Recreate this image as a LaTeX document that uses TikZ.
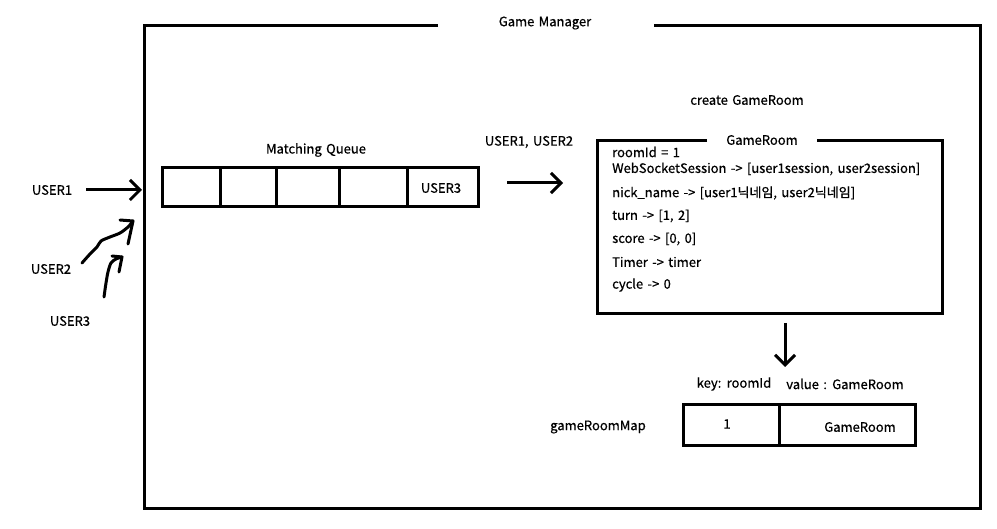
\documentclass[tikz,border=0pt]{standalone}
\usepackage{fontspec}
\setmainfont{Noto Sans CJK KR}
\newfontfamily\mf{Noto Sans CJK KR}[FakeBold=0.6,WordSpace=1.5]
\usetikzlibrary{arrows.meta}
\begin{document}
\begin{tikzpicture}[x=1pt,y=-1pt,
  every node/.style={font=\mf\fontsize{13}{15}\selectfont, inner sep=0pt},
  box/.style={line width=3pt},
  arr/.style={line width=3pt,-{Straight Barb[length=10pt,width=20pt]}},
  hand/.style={line width=3pt, line cap=round, line join=round},
  txt/.style={anchor=west}]
\useasboundingbox (0,0) rectangle (997,529);
\fill[white] (0,0) rectangle (997,529);
% outer Game Manager frame
\draw[box] (438,26) -- (144,26) -- (144,508) -- (980,508) -- (980,26) -- (654,26);
\node (gm) at (545,23) {Game Manager};
% users
\node (u1) at (52,190) {USER1};
\node (u2) at (51,269) {USER2};
\node (u3) at (70,321) {USER3};
\coordinate (u1s) at (86,190);
\coordinate (qin) at (142,190);
\draw[arr] (u1s) -- (qin);
% freehand arrow USER2
\coordinate (u2s) at (82,263);
\coordinate (u2t) at (133,221);
\draw[hand] plot[smooth] coordinates {(u2s) (90,254) (97,247) (101,241) (110,237) (120,233) (128,227) (u2t)};
\draw[hand] (120,220) -- (u2t) -- (128,244);
% freehand arrow USER3
\coordinate (u3s) at (104,297);
\coordinate (u3t) at (122,257);
\draw[hand] plot[smooth] coordinates {(u3s) (106,283) (108,272) (111,263) (116,259) (u3t)};
\draw[hand] (112,256) -- (u3t) -- (119,272);
% matching queue
\node (mq) at (316,150) {Matching Queue};
\draw[box] (162,168) rectangle (478,207);
\foreach \x in {220,276,339,407} \draw[box] (\x,168) -- (\x,207);
\node (q5) at (441,188) {USER3};
% transfer arrow
\node (u12) at (529,142) {USER1, USER2};
\coordinate (ts) at (507,183);
\coordinate (te) at (563,183);
\draw[arr] (ts) -- (te);
\node (cg) at (747,100) {create GameRoom};
% GameRoom box
\draw[box] (707,141) -- (597,141) -- (597,314) -- (942,314) -- (942,141) -- (817,141);
\node (gr) at (762,140) {GameRoom};
\node[txt] (l1) at (612,152) {roomId = 1};
\node[txt] (l2) at (612,169) {WebSocketSession -> [user1session, user2session]};
\node[txt] (l3) at (612,193) {nick\_name -> [user1닉네임, user2닉네임]};
\node[txt] (l4) at (612,216) {turn -> [1, 2]};
\node[txt] (l5) at (612,239) {score -> [0, 0]};
\node[txt] (l6) at (612,262) {Timer -> timer};
\node[txt] (l7) at (612,285) {cycle -> 0};
% down arrow
\coordinate (ds) at (785,323);
\coordinate (de) at (785,367);
\draw[arr] (ds) -- (de);
% map
\node (key) at (734,384) {key: roomId};
\node (val) at (845,384) {value : GameRoom};
\node (grm) at (598,427) {gameRoomMap};
\draw[box] (683,405) rectangle (915,446);
\draw[box] (779,405) -- (779,446);
\node (k1) at (727,424) {1};
\node (v1) at (860,427) {GameRoom};
\end{tikzpicture}
\end{document}
